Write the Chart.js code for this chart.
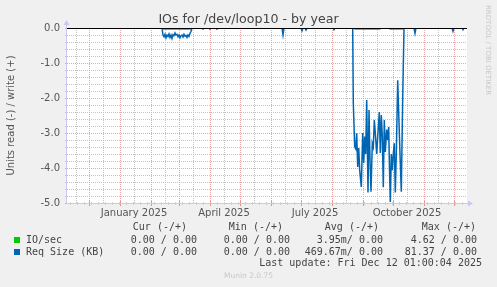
<!DOCTYPE html>
<html>
<head>
<meta charset="utf-8">
<script src="https://cdn.jsdelivr.net/npm/chart.js@4/dist/chart.umd.min.js"></script>
<style>
    html, body { margin: 0; padding: 0; background: #f0f0f0; }
    #wrap { position: relative; width: 497px; height: 287px; overflow: hidden; }
    #chart { position: absolute; left: 0; top: 0; }
    .txt { position: absolute; white-space: pre; line-height: 12px; }
    .mono { font-family: "DejaVu Sans Mono", monospace; font-size: 10px; color: #444; }
    .title { font-family: "DejaVu Sans", sans-serif; font-size: 12.6px; color: #444; left: 0; width: 497px; text-align: center; top: 11px; line-height: 16px; }
    .side { font-family: "DejaVu Sans", sans-serif; font-size: 7px; color: #c8c8c8; writing-mode: vertical-rl; left: 484px; top: 5px; line-height: 8px; }
    .munin { font-family: "DejaVu Sans", sans-serif; font-size: 7.5px; color: #c8c8c8; left: 0; width: 497px; text-align: center; top: 271px; line-height: 10px; }
    .swatch { position: absolute; width: 6px; height: 6px; }
</style>
</head>
<body>
<div id="wrap">
    <canvas id="chart" width="497" height="287"></canvas>
    <div id="overlay"></div>
</div>
<script>
// x values are days since 9 Nov 2024 (plot spans 400 days)
const monthStartDays = [22, 53, 84, 112, 143, 173, 204, 234, 265, 296, 326, 357, 387];
const midMonthDays = [9, 36, 67, 98, 126, 157, 187, 218, 248, 279, 310, 340, 371];
const xLabelDays = [67, 157, 248, 340];
const xLabels = ['January 2025', 'April 2025', 'July 2025', 'October 2025'];

// y grid: labelled every 1.0, minor lines every 0.2
const yMin = -5;
const yMax = 0;
const yMinorPerUnit = 5;

// IO/sec (green), read side only, tiny values
const ioDays   = [0, 95, 96, 124, 125, 287, 288, 313, 314, 322, 323, 336, 337, 400];
const ioValues = [0, 0, -0.03, -0.03, 0, 0, -0.03, -0.03, 0, 0, -0.03, -0.03, 0, 0];

// Req Size (blue)
const reqDays = [
    0, 95, 96, 97, 98, 99, 100, 101, 102, 103, 104, 105, 106, 107, 108, 109, 110, 111, 112,
    113, 114, 115, 116, 117, 118, 119, 120, 121, 122, 123, 124, 125,
    135, 136, 137, 142, 143, 144, 149, 150, 151,
    215, 216, 217, 234, 235, 236, 238, 239, 240, 266, 267, 268,
    285.7, 286.3, 287.7, 288.7, 289.7, 290.7, 291.7, 292.7, 294.3, 295.7, 296.7, 297.7, 298.7,
    299.7, 301, 302, 303, 304, 305.3, 306.3, 307.3, 308.3, 309.7, 311.3, 312.3, 313.3, 314.3,
    315.3, 316.3, 317.3, 318.3, 319.7, 320.7, 321.7, 322.3, 323.3, 324.3, 325.3, 326.3, 327.3,
    328.3, 329.3, 330.7, 331.7, 333, 334.3, 335.7, 337,
    347, 348, 349, 385, 386, 387, 395, 396, 397, 400
];
const reqValues = [
    0, 0, -0.2, -0.25, -0.18, -0.28, -0.2, -0.24, -0.17, -0.27, -0.2, -0.3, -0.19, -0.22, -0.14, -0.2, -0.18, -0.25, -0.2,
    -0.28, -0.22, -0.2, -0.26, -0.18, -0.23, -0.21, -0.27, -0.2, -0.24, -0.15, -0.1, 0,
    0, -0.03, 0, 0, -0.03, 0, 0, -0.03, 0,
    0, -0.2, 0, 0, -0.08, 0, 0, -0.06, 0, 0, -0.05, 0,
    0, -2.15, -3.39, -3.45, -3.01, -3.97, -3.43, -4.06, -4.54, -3.0, -3.86, -3.1, -3.6,
    -2.06, -4.7, -2.34, -3.77, -4.68, -3.3, -3.4, -2.63, -3.0, -3.6, -2.83, -2.4, -3.57, -2.49,
    -3.1, -4.55, -2.63, -3.54, -2.9, -3.2, -2.83, -3.77, -4.97, -3.6, -4.06, -3.6, -3.29,
    -4.7, -3.6, -1.49, -2.43, -3.6, -4.68, -2.0, 0,
    0, -0.15, 0, 0, -0.09, 0, 0, -0.05, 0, 0
];

const legendHeaders = ['Cur (-/+)', 'Min (-/+)', 'Avg (-/+)', 'Max (-/+)'];
const seriesNames = ['IO/sec', 'Req Size (KB)'];
const seriesColors = ['#00cc00', '#0066b3'];
const ioStats = ['0.00 / 0.00', '0.00 / 0.00', '3.95m/ 0.00', '4.62 / 0.00'];
const reqStats = ['0.00 / 0.00', '0.00 / 0.00', '469.67m/ 0.00', '81.37 / 0.00'];

const GRID_GRAY = '#c4c4c4';
const GRID_RED = '#eca4a4';
const AXIS_COLOR = '#c8c8f0';

const toPoints = (xs, ys) => xs.map((x, i) => ({ x: x, y: ys[i] }));
const isInt = v => Math.abs(v - Math.round(v)) < 1e-6;

function buildOverlay() {
    const o = document.getElementById('overlay');
    let html = '';
    html += '<div class="txt title">IOs for /dev/loop10 - by year</div>';
    html += '<div class="txt side">RRDTOOL / TOBI OETIKER</div>';
    const colRight = [187, 283, 379, 476];
    const valRight = [197, 290, 383, 477];
    legendHeaders.forEach((h, i) => {
        html += `<div class="txt mono" style="right:${497 - colRight[i]}px; top:221px;">${h}</div>`;
    });
    const rows = [ioStats, reqStats];
    const rowTop = [234, 246];
    seriesNames.forEach((name, r) => {
        html += `<div class="swatch" style="left:14px; top:${rowTop[r] + 3}px; background:${seriesColors[r]};"></div>`;
        html += `<div class="txt mono" style="left:26px; top:${rowTop[r]}px;">${name}</div>`;
        rows[r].forEach((v, i) => {
            html += `<div class="txt mono" style="right:${497 - valRight[i]}px; top:${rowTop[r]}px;">${v}</div>`;
        });
    });
    html += '<div class="txt mono" style="right:15px; top:257px;">Last update: Fri Dec 12 01:00:04 2025</div>';
    html += '<div class="txt munin">Munin 2.0.75</div>';
    o.innerHTML = html;
}

// one dotted line, dot by dot so every dot lands on a whole pixel
function dottedLine(ctx, x1, y1, x2, y2) {
    if (y1 === y2) {
        for (let x = x1; x < x2; x += 2) ctx.fillRect(x, y1, 1, 1);
    } else {
        for (let y = y1; y < y2; y += 2) ctx.fillRect(x1, y, 1, 1);
    }
}

const rrdPlugin = {
    id: 'rrd',
    beforeDraw(chart) {
        const { ctx, chartArea: a } = chart;
        ctx.save();
        ctx.fillStyle = '#ffffff';
        ctx.fillRect(a.left, a.top, a.right - a.left, a.bottom - a.top);
        ctx.restore();
    },
    beforeDatasetsDraw(chart) {
        // rrdtool style grid, minor gray first, then major red
        const { ctx, chartArea: a, scales } = chart;
        const left = Math.round(a.left);
        const right = Math.round(a.right);
        const top = Math.round(a.top);
        const bottom = Math.round(a.bottom);
        const yVals = [];
        for (let i = yMin * yMinorPerUnit; i <= yMax * yMinorPerUnit; i++) yVals.push(i / yMinorPerUnit);
        ctx.save();
        const pass = (color, ys, xs) => {
            ctx.fillStyle = color;
            ys.forEach(v => {
                const py = Math.round(scales.y.getPixelForValue(v));
                dottedLine(ctx, left - 2, py, right, py);
            });
            xs.forEach(v => {
                const px = Math.round(scales.x.getPixelForValue(v));
                dottedLine(ctx, px, top, px, bottom);
            });
        };
        pass(GRID_GRAY, yVals.filter(v => !isInt(v)), midMonthDays);
        pass(GRID_RED, yVals.filter(v => isInt(v)), monthStartDays);
        ctx.restore();
    },
    afterDatasetsDraw(chart) {
        // black zero rule on top of the lines
        const { ctx, chartArea: a, scales } = chart;
        const y0 = Math.round(scales.y.getPixelForValue(0));
        ctx.save();
        ctx.fillStyle = '#000000';
        ctx.fillRect(Math.round(a.left), y0, Math.round(a.right) - Math.round(a.left), 1);
        ctx.restore();
    },
    afterDraw(chart) {
        const { ctx, chartArea: a, scales } = chart;
        const x = scales.x;
        const left = Math.round(a.left) - 1;
        const bottom = Math.round(a.bottom);
        const top = Math.round(a.top);
        const right = Math.round(a.right);
        ctx.save();
        // small ticks on the time axis
        ctx.fillStyle = '#d0d0d0';
        for (let d = 3; d < 400; d += 7) {
            ctx.fillRect(Math.round(x.getPixelForValue(d)), bottom - 1, 1, 3);
        }
        ctx.fillStyle = '#e89090';
        monthStartDays.forEach(d => {
            ctx.fillRect(Math.round(x.getPixelForValue(d)), bottom - 2, 1, 5);
        });
        // axes with arrows
        ctx.fillStyle = AXIS_COLOR;
        ctx.fillRect(left, top - 4, 1, bottom - top + 5);
        ctx.fillRect(left, bottom, right - left + 2, 1);
        ctx.beginPath();
        ctx.moveTo(left - 2.5, top - 3);
        ctx.lineTo(left + 3.5, top - 3);
        ctx.lineTo(left + 0.5, top - 8);
        ctx.closePath();
        ctx.fill();
        ctx.beginPath();
        ctx.moveTo(right + 1, bottom - 2.5);
        ctx.lineTo(right + 1, bottom + 3.5);
        ctx.lineTo(right + 6, bottom + 0.5);
        ctx.closePath();
        ctx.fill();
        ctx.restore();
    }
};

Chart.defaults.font.family = '"DejaVu Sans", sans-serif';
Chart.defaults.font.size = 10;
Chart.defaults.color = '#555555';

new Chart(document.getElementById('chart'), {
    type: 'line',
    data: {
        datasets: [
            {
                label: seriesNames[0],
                data: toPoints(ioDays, ioValues),
                borderColor: seriesColors[0],
                borderWidth: 1.2,
                pointRadius: 0,
                tension: 0
            },
            {
                label: seriesNames[1],
                data: toPoints(reqDays, reqValues),
                borderColor: seriesColors[1],
                borderWidth: 1.5,
                pointRadius: 0,
                tension: 0
            }
        ]
    },
    options: {
        responsive: false,
        animation: false,
        events: [],
        layout: { padding: { left: 0, right: 30, top: 28, bottom: 64 } },
        plugins: {
            legend: { display: false },
            tooltip: { enabled: false },
            title: { display: false }
        },
        scales: {
            x: {
                type: 'linear',
                min: 0,
                max: 400,
                afterBuildTicks: axis => {
                    axis.ticks = xLabelDays.map(v => ({ value: v }));
                },
                afterFit: scale => { scale.height = 20; },
                ticks: {
                    autoSkip: false,
                    maxRotation: 0,
                    padding: 4,
                    color: '#555555',
                    callback: v => {
                        const i = xLabelDays.indexOf(v);
                        return i >= 0 ? xLabels[i] : '';
                    }
                },
                grid: { drawTicks: false, drawOnChartArea: false },
                border: { display: false }
            },
            y: {
                min: yMin,
                max: yMax,
                afterBuildTicks: axis => {
                    const ticks = [];
                    for (let v = yMin; v <= yMax; v++) ticks.push({ value: v });
                    axis.ticks = ticks;
                },
                afterFit: scale => { scale.width = 67; },
                ticks: {
                    autoSkip: false,
                    padding: 7,
                    color: '#555555',
                    callback: v => Number(v).toFixed(1)
                },
                grid: { drawTicks: false, drawOnChartArea: false },
                border: { display: false },
                title: {
                    display: true,
                    text: 'Units read (-) / write (+)',
                    color: '#555555',
                    font: { size: 10 },
                    padding: { top: 5, bottom: 0 }
                }
            }
        }
    },
    plugins: [rrdPlugin]
});

buildOverlay();
</script>
</body>
</html>
